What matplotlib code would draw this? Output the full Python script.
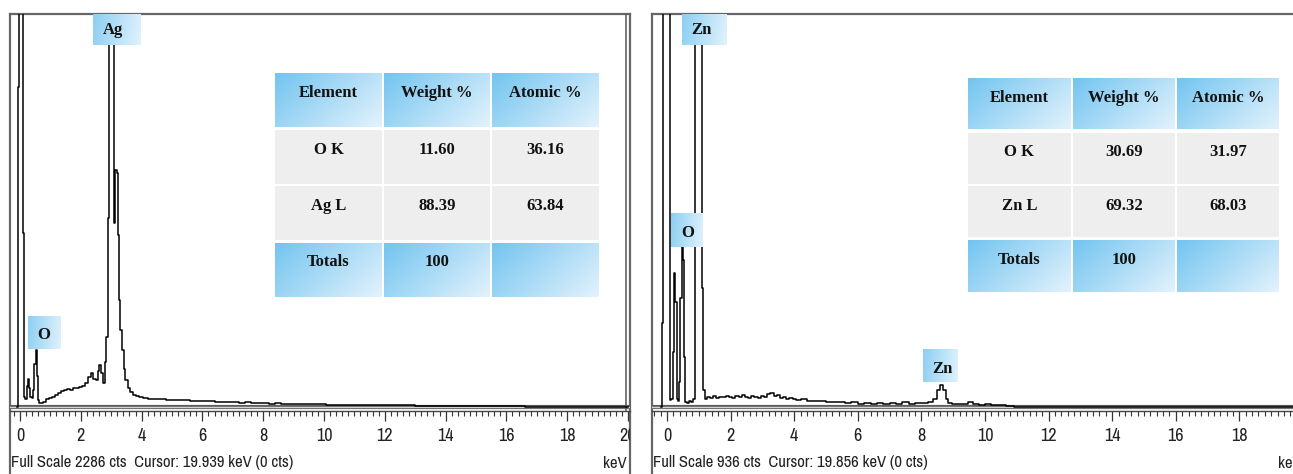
import numpy as np
import matplotlib.pyplot as plt
from matplotlib import font_manager
from matplotlib.ticker import MultipleLocator

W, H = 1293, 474

# ---- data ----
ag_energy = [-0.10, -0.06, -0.02, 0.04, 0.10, 0.13, 0.16, 0.20, 0.24, 0.28, 0.32, 0.36,
             0.40, 0.45, 0.50, 0.54, 0.58, 0.62, 0.66, 0.72, 0.80, 0.90, 1.00, 1.10,
             1.20, 1.30, 1.40, 1.50, 1.60, 1.70, 1.80, 1.90, 2.00, 2.10, 2.20, 2.30,
             2.38, 2.45, 2.52, 2.58, 2.64, 2.70, 2.76, 2.82, 2.87, 2.92, 2.96, 3.02,
             3.08, 3.12, 3.16, 3.20, 3.24, 3.28, 3.33, 3.38, 3.44, 3.50, 3.58, 3.66,
             3.76, 3.86, 3.96, 4.1, 4.3, 4.5, 4.7, 4.9, 5.1, 5.3, 5.5, 5.7, 5.9, 6.1,
             6.3, 6.5, 6.7, 6.9, 7.1, 7.3, 7.5, 7.7, 7.9, 8.1, 8.3, 8.5, 8.7, 8.9, 9.1,
             9.3, 9.5, 9.7, 9.9, 10.2, 10.5, 10.8, 11.1, 11.4, 11.7, 12.0, 12.4, 12.8,
             13.2, 13.6, 14.0, 14.4, 14.8, 15.2, 15.6, 16.0, 16.4, 16.8, 17.2, 20.0]
ag_counts = [0, 1860, 3000, 3000, 3000, 1010, 60, 45, 120, 160, 110, 60,
             55, 100, 250, 330, 180, 40, 22, 25, 30, 45, 52, 60,
             70, 82, 95, 100, 105, 98, 108, 112, 118, 125, 140, 175,
             200, 165, 155, 210, 245, 200, 140, 260, 410, 1100, 3000, 3000,
             3000, 1070, 1380, 1360, 1000, 620, 450, 330, 220, 157, 110, 87,
             70, 62, 58, 50, 47, 44, 45, 40, 42, 38, 40, 36, 35, 33,
             34, 30, 31, 28, 28, 25, 27, 24, 22, 22, 20, 22, 18, 19, 17,
             18, 16, 15, 16, 14, 13, 13, 12, 11, 10, 10, 9, 9,
             8, 8, 7, 7, 6, 5, 5, 4, 3, 2, 0, 0]
ag_full_scale = 2286
ag_cursor = 19.939

zn_energy = [-0.20, -0.14, -0.10, 0.00, 0.08, 0.12, 0.16, 0.20, 0.24, 0.28, 0.32, 0.36,
             0.40, 0.44, 0.48, 0.52, 0.56, 0.60, 0.66, 0.72, 0.80, 0.86, 0.92, 0.96,
             1.02, 1.08, 1.12, 1.16, 1.20, 1.3, 1.4, 1.5, 1.6, 1.7, 1.8, 1.9, 2.0,
             2.1, 2.2, 2.3, 2.4, 2.5, 2.6, 2.7, 2.8, 2.9, 3.0, 3.1, 3.2, 3.3, 3.4,
             3.5, 3.6, 3.7, 3.8, 3.9, 4.0, 4.1, 4.3, 4.5, 4.7, 4.9, 5.1, 5.3, 5.5,
             5.7, 5.9, 6.1, 6.3, 6.5, 6.7, 6.9, 7.1, 7.3, 7.5, 7.7, 7.9, 8.1, 8.3,
             8.45, 8.55, 8.64, 8.72, 8.8, 8.9, 9.0, 9.2, 9.4, 9.55, 9.7, 9.9, 10.1,
             10.3, 10.5, 10.8, 11.0, 20.0]
zn_counts = [0, 200, 1200, 1200, 1200, 17, 20, 130, 320, 250, 20, 15,
             60, 260, 380, 350, 120, 12, 10, 14, 12, 20, 900, 1200,
             1200, 1200, 283, 40, 20, 24, 22, 26, 22, 25, 23, 27, 24,
             22, 26, 24, 28, 25, 22, 26, 24, 22, 26, 23, 30, 34, 26,
             28, 22, 24, 20, 22, 18, 17, 20, 15, 14, 14, 13, 12, 12,
             10, 12, 8, 10, 8, 9, 8, 10, 8, 11, 8, 10, 9, 11,
             18, 40, 52, 40, 18, 10, 8, 6, 8, 12, 8, 5, 6,
             4, 5, 3, 0, 0]
zn_full_scale = 936
zn_cursor = 19.856

ag_table = [["Element", "Weight %", "Atomic %"],
            ["O K", "11.60", "36.16"],
            ["Ag L", "88.39", "63.84"],
            ["Totals", "100", ""]]
zn_table = [["Element", "Weight %", "Atomic %"],
            ["O K", "30.69", "31.97"],
            ["Zn L", "69.32", "68.03"],
            ["Totals", "100", ""]]

# pick a narrow sans for the instrument text if one is around
fonts = font_manager.fontManager.ttflist
narrow_kw = {"family": "Liberation Sans", "fontsize": 10}
tick_kw = {"family": "Liberation Sans", "size": 11}
for f in fonts:
    if "Narrow" in f.name or "Condensed" in f.name:
        narrow_kw = {"family": f.name, "fontsize": 12}
        tick_kw = {"family": f.name, "size": 13}
        break
else:
    for f in fonts:
        if f.name == "DejaVu Sans" and f.stretch in ("condensed", "semi-condensed") and f.weight in (400, "normal"):
            narrow_kw = {"family": "DejaVu Sans", "fontstretch": "condensed", "fontsize": 10.5}
            tick_kw = {"family": "DejaVu Sans", "size": 11}
            break
serif = "Liberation Serif"

fig = plt.figure(figsize=(W / 100, H / 100), dpi=100)
fig.patch.set_facecolor("white")


def px_axes(x0, y0, x1, y1, **kw):
    return fig.add_axes([x0 / W, 1 - y1 / H, (x1 - x0) / W, (y1 - y0) / H], **kw)


# overlay in pixel units for boxes, tables, footers
ov = px_axes(0, 0, W, H, zorder=10)
ov.axis("off")
ov.patch.set_alpha(0)

blue0 = np.array([0.45, 0.77, 0.94])
blue1 = np.array([0.89, 0.95, 0.99])


def grad_box(x0, y0, x1, y1, c0=blue0, c1=blue1, wx=0.65):
    u = np.linspace(0, 1, 80)[None, :]
    v = np.linspace(0, 1, 40)[:, None]
    t = np.clip(wx * u + (1 - wx) * v, 0, 1)
    img = c0 * (1 - t)[..., None] + c1 * t[..., None]
    ov.imshow(img, extent=(x0, x1, y1, y0), aspect="auto", interpolation="bilinear")


def spectrum(px0, px1, e0, e1, energy, counts, full, cursor, footer, last_label):
    frame = px_axes(px0, 14, px1, H + 6)
    frame.set_xticks([])
    frame.set_yticks([])
    for s in frame.spines.values():
        s.set_color("#666666")
        s.set_linewidth(1.6)

    ax = px_axes(px0, 14, px1, 411, zorder=2)
    ax.patch.set_alpha(0)
    ax.set_xlim(e0, e1)
    ax.set_ylim(-4 / 393 * full, full)
    ax.axhline(0, color="#5c5c5c", lw=3.0, zorder=1)
    ax.axhline(0, color="#d4d4d4", lw=1.0, zorder=1)
    ax.plot(energy, counts, drawstyle="steps-mid", color="black", lw=1.1, zorder=3)
    ax.axvline(cursor, color="#555555", lw=1.1)
    for side in ["left", "right", "top"]:
        ax.spines[side].set_visible(False)
    ax.spines["bottom"].set_color("#444444")
    ax.spines["bottom"].set_linewidth(1.0)
    ax.set_yticks([])
    ax.set_xticks(np.arange(0, last_label + 1, 2))
    ax.xaxis.set_minor_locator(MultipleLocator(0.2))
    ax.tick_params(axis="x", which="major", direction="out", length=7, width=0.9,
                   color="#333333", pad=5, labelsize=tick_kw["size"])
    ax.tick_params(axis="x", which="minor", direction="out", length=3.5, width=0.8,
                   color="#333333")
    for lab in ax.get_xticklabels():
        lab.set_family(tick_kw["family"])
        lab.set_color("#222222")
        lab.set_clip_box(frame.bbox)
        lab.set_clip_on(True)

    ov.text(px0 + 1, 463, footer, color="#222222", ha="left", va="center", **narrow_kw)
    ov.text(px1 - 3, 463, "keV", color="#222222", ha="right", va="center", **narrow_kw)
    return ax


spectrum(10, 630, -10 / 30.4, 610 / 30.4, ag_energy, ag_counts, ag_full_scale,
         ag_cursor, "Full Scale 2286 cts  Cursor: 19.939 keV (0 cts)", 20)
spectrum(652, 1305, -15 / 31.8, 638 / 31.8, zn_energy, zn_counts, zn_full_scale,
         zn_cursor, "Full Scale 936 cts  Cursor: 19.856 keV (0 cts)", 18)

# peak labels
peak_boxes = [("Ag", 93, 14, 141, 45, 113, 34),
              ("O", 28, 316, 61, 349, 44, 339),
              ("Zn", 682, 14, 727, 45, 701, 34),
              ("O", 671, 214, 703, 247, 688, 237),
              ("Zn", 923, 349, 958, 382, 942, 373)]
for txt, x0, y0, x1, y1, tx, ty in peak_boxes:
    grad_box(x0, y0, x1, y1, c0=np.array([0.55, 0.81, 0.95]), c1=np.array([0.88, 0.95, 0.99]), wx=0.9)
    ov.text(tx, ty, txt, family=serif, fontweight="bold", fontsize=12,
            ha="center", va="baseline", color="#111111")


def draw_table(rows, col_x, row_y):
    for r, (ya, yb) in enumerate(row_y):
        for c, (xa, xb) in enumerate(col_x):
            if r in (0, len(row_y) - 1):
                grad_box(xa, ya, xb, yb)
            else:
                ov.fill_between([xa, xb], ya, yb, color="#eeeeee", lw=0)
            ov.text((xa + xb) / 2, ya + 23.5, rows[r][c], family=serif,
                    fontweight="bold", fontsize=12, ha="center", va="baseline",
                    color="#111111")


draw_table(ag_table, [(275, 382), (384, 490), (492, 599)],
           [(73, 127), (130, 184), (186, 240), (243, 297)])
draw_table(zn_table, [(968, 1071), (1073, 1175), (1177, 1279)],
           [(78, 129), (133, 184), (186, 237), (240, 292)])

ov.set_xlim(0, W)
ov.set_ylim(H, 0)

fig.savefig("out.png", dpi=100)
